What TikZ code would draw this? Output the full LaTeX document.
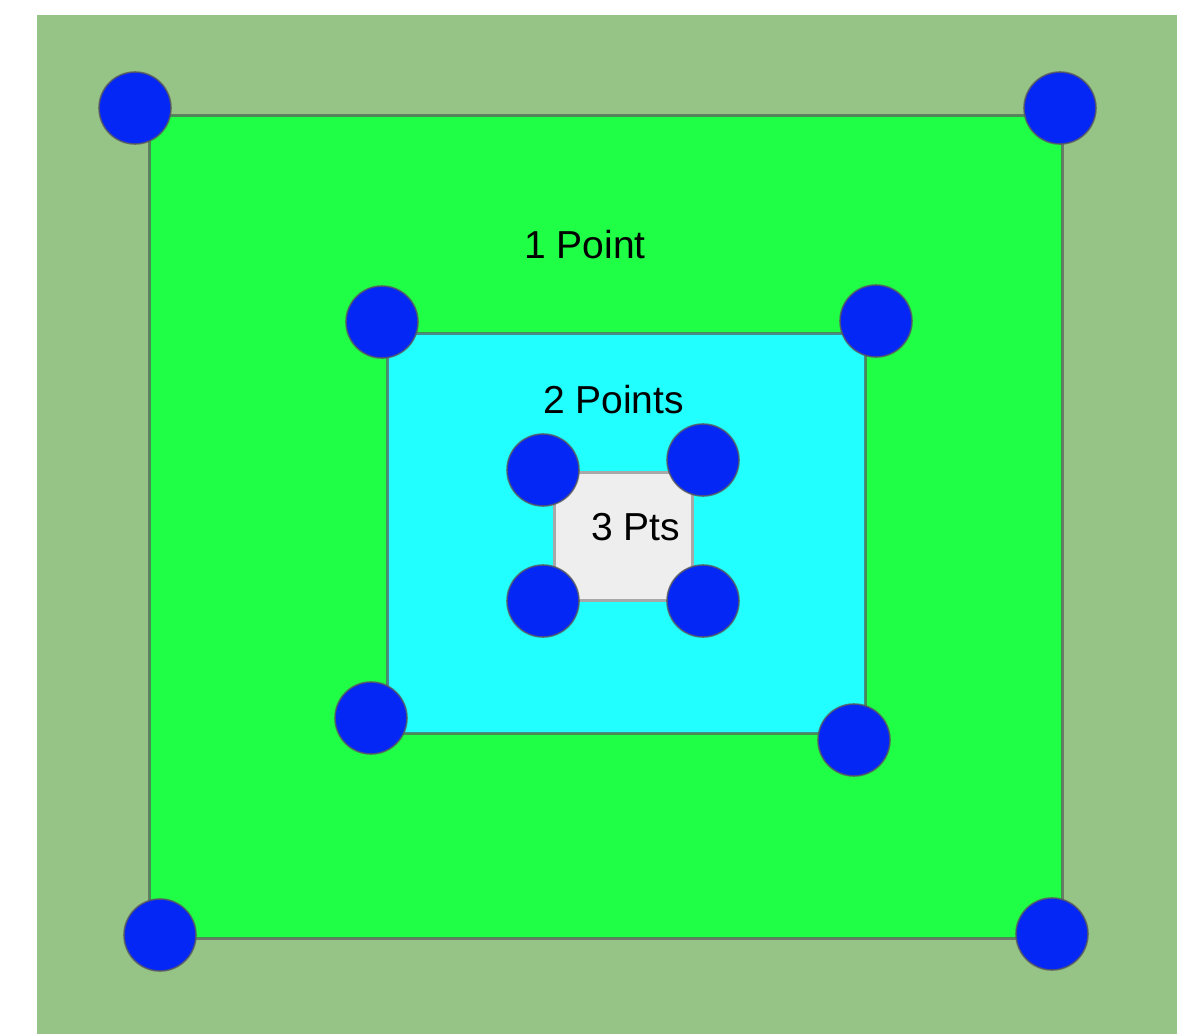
\documentclass[tikz,border=0pt]{standalone}
\usepackage{fontspec}
\setmainfont{Liberation Sans}
\definecolor{bggreen}{RGB}{150,195,134}
\definecolor{brightgreen}{RGB}{30,255,70}
\definecolor{cyanfill}{RGB}{34,255,255}
\definecolor{dotblue}{RGB}{5,39,245}
\definecolor{lightfill}{RGB}{238,238,238}
\definecolor{edgegray}{RGB}{90,90,90}
\tikzset{
  zone/.style={draw=edgegray, draw opacity=0.7, line width=1.5pt},
  dot/.style={circle, fill=dotblue, draw=edgegray, draw opacity=0.8, line width=0.8pt, minimum size=36pt, inner sep=0pt},
  lbl/.style={anchor=base, inner sep=0pt, font=\fontsize{19.5pt}{22pt}\selectfont}
}
\begin{document}
\begin{tikzpicture}[x=0.5pt,y=-0.5pt]
\useasboundingbox (0,0) rectangle (1191,1034);
% background
\fill[bggreen] (37,15) rectangle (1177,1034);
% outer zone
\path[zone, fill=brightgreen] (149,115) rectangle (1062,938);
\node[dot] (o1) at (135,108) {};
\node[dot] (o2) at (1060,108) {};
\node[dot] (o3) at (160,935) {};
\node[dot] (o4) at (1052,934) {};
% middle zone
\path[zone, fill=cyanfill] (387,333) rectangle (865,733);
\node[dot] (m1) at (382,322) {};
\node[dot] (m2) at (876,321) {};
\node[dot] (m3) at (371,718) {};
\node[dot] (m4) at (854,740) {};
% inner zone
\path[draw={rgb,255:red,168;green,168;blue,168}, line width=1.5pt, fill=lightfill] (554,472) rectangle (692,600);
\node[dot] (i1) at (543,470) {};
\node[dot] (i2) at (703,460) {};
\node[dot] (i3) at (543,601) {};
\node[dot] (i4) at (703,601) {};
% labels
\node[lbl] (t1) at (585,258) {1 Point};
\node[lbl] (t2) at (613.5,413) {2 Points};
\node[lbl] (t3) at (635.5,540) {3 Pts};
\end{tikzpicture}
\end{document}
